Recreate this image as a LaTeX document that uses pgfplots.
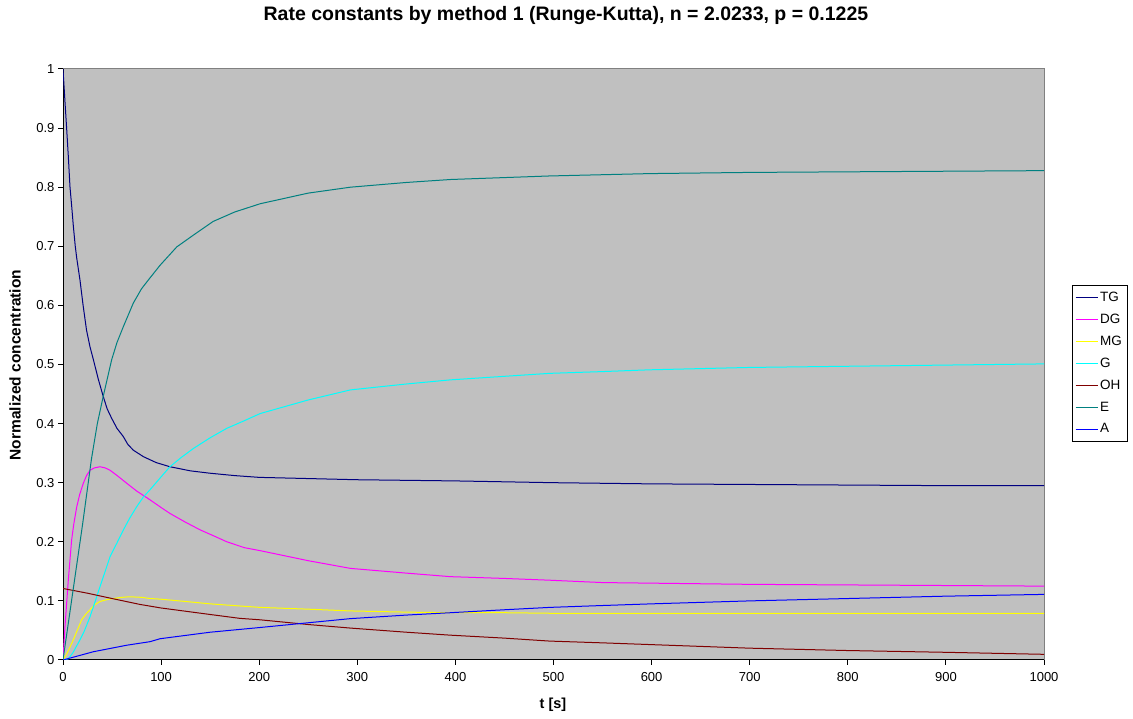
\documentclass[border=0pt]{standalone}
\usepackage{fontspec}
\setmainfont{Liberation Sans}
\usepackage{pgfplots}
\pgfplotsset{compat=1.18}
\definecolor{bgc}{RGB}{192,192,192}
\definecolor{framec}{RGB}{128,128,128}
\definecolor{tgc}{RGB}{0,0,128}
\definecolor{dgc}{RGB}{255,0,255}
\definecolor{mgc}{RGB}{255,255,0}
\definecolor{gc}{RGB}{0,255,255}
\definecolor{ohc}{RGB}{128,0,0}
\definecolor{ec}{RGB}{0,128,128}
\definecolor{ac}{RGB}{0,0,255}
\begin{document}
\begin{tikzpicture}[x=1pt,y=1pt]
\path[use as bounding box] (0,0) rectangle (1133,719);
\begin{axis}[
  at={(63pt,59pt)}, anchor=south west,
  width=981pt, height=591pt, scale only axis,
  xmin=0, xmax=1000, ymin=0, ymax=1,
  xtick={0,100,200,300,400,500,600,700,800,900,1000},
  ytick={0,0.1,0.2,0.3,0.4,0.5,0.6,0.7,0.8,0.9,1},
  axis x line*=bottom, axis y line*=left,
  axis line style={-, black, line width=1pt},
  axis background/.style={fill=bgc, draw=framec, line width=1pt},
  tick align=outside, major tick length=5pt,
  tick style={black, line width=1pt},
  ticklabel style={font=\fontsize{13}{15}\selectfont},
  xticklabel style={yshift=-4pt},
  /pgf/number format/assume math mode=true,
  /pgf/number format/1000 sep={},
  title={Rate constants by method 1 (Runge-Kutta), n = 2.0233, p = 0.1225},
  title style={font=\bfseries\fontsize{19.5}{22}\selectfont, at={(0.5127,1.0796)}, anchor=center},
  xlabel={t [s]},
  xlabel style={font=\bfseries\fontsize{14.5}{17}\selectfont, at={(0.4995,-0.0761)}, anchor=center},
  ylabel={Normalized concentration},
  ylabel style={font=\bfseries\fontsize{15.5}{18}\selectfont, at={(-0.0489,0.499)}, anchor=center},
  legend style={at={(1.0285,0.6345)}, anchor=north west, draw=black, fill=white,
    font=\fontsize{13.5}{15}\selectfont, row sep=7pt, inner xsep=3pt, inner ysep=5pt,
    cells={anchor=west}},
  legend image code/.code={\draw[#1] (0pt,0pt) -- (22pt,0pt);},
  no markers,
]
\addplot[tgc, line width=1pt] coordinates {(0,1.000)(2,0.945)(3.7,0.900)(5.5,0.850)(7.1,0.801)(9,0.765)(10.5,0.735)(12.5,0.700)(14,0.680)(17.3,0.643)(20.5,0.600)(24,0.558)(27.5,0.530)(31,0.508)(36,0.475)(41,0.446)(45,0.425)(49.6,0.409)(55,0.392)(61.5,0.378)(66,0.365)(71.7,0.355)(82,0.344)(95,0.334)(109,0.327)(130,0.320)(150,0.316)(175,0.312)(200,0.309)(250,0.307)(300,0.305)(350,0.304)(400,0.303)(500,0.300)(600,0.298)(700,0.297)(800,0.296)(900,0.295)(1000,0.295)};
\addlegendentry{TG}
\addplot[dgc, line width=1pt] coordinates {(0,0)(2,0.056)(5.4,0.135)(8.8,0.203)(11,0.230)(14,0.259)(17,0.280)(20.7,0.299)(24,0.312)(27.5,0.321)(32,0.325)(37.7,0.327)(43,0.325)(48,0.321)(56,0.311)(65,0.299)(75,0.286)(88.7,0.271)(100,0.258)(109,0.248)(125,0.233)(140,0.220)(155,0.209)(167,0.200)(185,0.190)(201,0.185)(250,0.168)(293,0.155)(350,0.147)(395,0.141)(450,0.138)(496,0.135)(550,0.131)(600,0.130)(700,0.128)(800,0.127)(900,0.126)(1000,0.125)};
\addlegendentry{DG}
\addplot[mgc, line width=1pt] coordinates {(0,0)(3,0.008)(6,0.018)(10.5,0.034)(15,0.052)(19,0.068)(23,0.077)(27.5,0.085)(32,0.093)(37.7,0.099)(44.5,0.102)(51,0.104)(60,0.106)(68,0.107)(80,0.106)(88.7,0.104)(99,0.103)(125,0.099)(150,0.095)(175,0.092)(201,0.089)(250,0.086)(293,0.083)(350,0.081)(395,0.080)(450,0.080)(500,0.079)(550,0.079)(1000,0.079)};
\addlegendentry{MG}
\addplot[gc, line width=1pt] coordinates {(0,0)(5.4,0.002)(10,0.012)(17.3,0.034)(22,0.050)(27.5,0.073)(32,0.095)(37.7,0.124)(43,0.150)(48,0.175)(55,0.198)(61.5,0.220)(68,0.240)(75,0.259)(82,0.276)(88.7,0.288)(99,0.308)(109,0.327)(120,0.342)(133,0.358)(150,0.376)(167,0.392)(185,0.405)(201,0.417)(250,0.440)(293,0.457)(350,0.467)(395,0.474)(450,0.480)(496,0.485)(550,0.488)(598,0.491)(700,0.495)(800,0.497)(900,0.499)(1000,0.501)};
\addlegendentry{G}
\addplot[ohc, line width=1pt] coordinates {(0,0.121)(25,0.113)(50,0.104)(78.5,0.094)(100,0.088)(150,0.077)(180,0.0705)(201,0.068)(250,0.060)(293,0.054)(350,0.047)(395,0.042)(450,0.037)(496,0.032)(550,0.029)(600,0.026)(700,0.020)(800,0.016)(900,0.013)(1000,0.0096)};
\addlegendentry{OH}
\addplot[ec, line width=1pt] coordinates {(0,0)(10,0.115)(20,0.230)(29,0.340)(35,0.400)(41,0.446)(49.6,0.508)(55,0.537)(61.5,0.564)(71.7,0.604)(80,0.628)(87,0.643)(99,0.668)(116,0.699)(133,0.719)(153,0.742)(175,0.758)(201,0.772)(250,0.790)(293,0.800)(350,0.808)(395,0.813)(496,0.819)(598,0.823)(700,0.825)(800,0.826)(900,0.827)(1000,0.828)};
\addlegendentry{E}
\addplot[ac, line width=1pt] coordinates {(0,0)(31,0.014)(65,0.025)(88.7,0.031)(99,0.036)(150,0.047)(201,0.055)(250,0.063)(293,0.070)(350,0.076)(395,0.080)(450,0.085)(496,0.089)(547,0.092)(600,0.095)(700,0.100)(800,0.104)(900,0.108)(1000,0.111)};
\addlegendentry{A}
\end{axis}
\end{tikzpicture}
\end{document}
